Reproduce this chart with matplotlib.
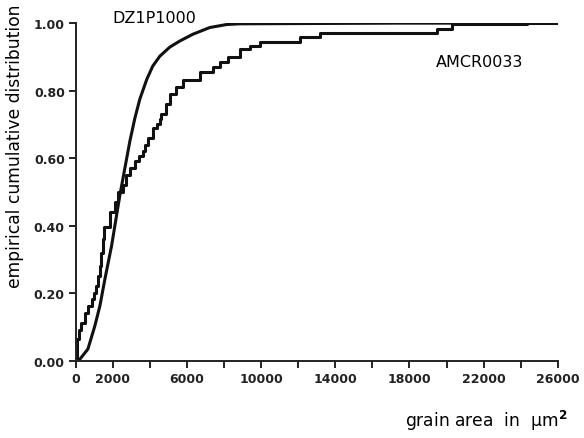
import matplotlib.pyplot as plt

plt.rcParams['font.family'] = ['DejaVu Sans']

# DZ1P1000 - smooth curve (grain area in um^2, cumulative fraction)
dz_area = [0, 216, 647, 1024, 1294, 1563, 1924, 2372, 2641, 2911, 3180, 3450,
           3827, 4150, 4528, 5067, 5606, 6306, 7223, 8139, 8840, 17356, 26000]
dz_cdf = [0.0, 0.004, 0.034, 0.103, 0.162, 0.241, 0.340, 0.490, 0.570, 0.650, 0.718, 0.775,
          0.834, 0.873, 0.902, 0.929, 0.947, 0.967, 0.987, 0.996, 0.998, 1.0, 1.0]

# AMCR0033 - step curve (x where step happens, new value)
am_area = [0, 40, 160, 300, 480, 650, 850, 1000, 1110, 1200, 1300, 1380, 1455,
           1500, 1833, 2102, 2264, 2533, 2700, 2911, 3180, 3400, 3611, 3750,
           3880, 4150, 4350, 4528, 4600, 4850, 5067, 5400, 5767, 6680, 7400,
           7760, 8190, 8840, 9380, 9920, 12070, 13150, 19460, 20320, 24360, 26000]
am_cdf = [0.0, 0.065, 0.09, 0.11, 0.14, 0.163, 0.183, 0.20, 0.222, 0.25, 0.28, 0.32, 0.36,
          0.397, 0.44, 0.47, 0.50, 0.52, 0.55, 0.57, 0.59, 0.605, 0.62, 0.64,
          0.66, 0.69, 0.70, 0.716, 0.73, 0.76, 0.79, 0.81, 0.83, 0.855, 0.87,
          0.885, 0.90, 0.923, 0.932, 0.944, 0.958, 0.970, 0.982, 0.997, 1.0, 1.0]

xticks = list(range(0, 26001, 2000))
xlabels = ['0', '2000', '', '6000', '', '10000', '', '14000', '', '18000', '', '22000', '', '26000']
yticks = [0.0, 0.2, 0.4, 0.6, 0.8, 1.0]

fig = plt.figure(figsize=(5.84, 4.39), dpi=100)
ax = fig.add_axes([0.130, 0.1765, 0.825, 0.7685])

ax.plot(dz_area, dz_cdf, color='#111111', lw=2.2, solid_joinstyle='round')
ax.plot(am_area, am_cdf, color='#111111', lw=2.2, drawstyle='steps-post')

ax.set_xlim(0, 26000)
ax.set_ylim(0, 1.0)
ax.set_xticks(xticks)
ax.set_xticklabels(xlabels)
ax.set_yticks(yticks)
ax.set_yticklabels(['%.2f' % v for v in yticks])

for s in ['top', 'right']:
    ax.spines[s].set_visible(False)
for s in ['left', 'bottom']:
    ax.spines[s].set_linewidth(1.4)
    ax.spines[s].set_color('#222222')
ax.tick_params(direction='out', length=5, width=1.4, colors='#222222',
               labelsize=9, pad=3)
for lab in ax.get_xticklabels() + ax.get_yticklabels():
    lab.set_fontweight('bold')

ax.text(1994, 1.018, 'DZ1P1000', fontsize=11.5, va='center', ha='left', clip_on=False)
ax.text(19400, 0.887, 'AMCR0033', fontsize=11.5, va='center', ha='left')

fig.text(15 / 584, 1 - 146 / 439, 'empirical cumulative distribution',
         rotation=90, fontsize=12.3, va='center', ha='center')
fig.text(568 / 584, 1 - 421 / 439, 'grain area  in  μm$^{\\mathbf{2}}$',
         fontsize=12.3, va='center', ha='right')

fig.savefig('out.png', dpi=100)
